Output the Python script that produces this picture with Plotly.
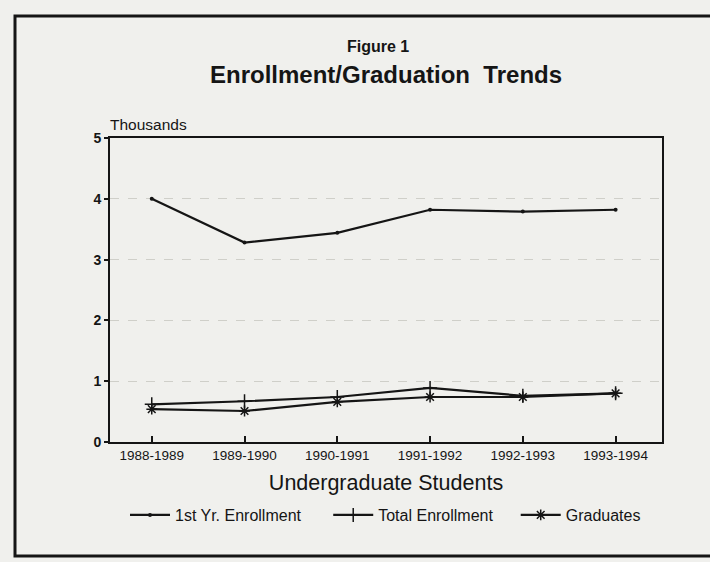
import plotly.graph_objects as go

categories = ["1988-1989", "1989-1990", "1990-1991", "1991-1992", "1992-1993", "1993-1994"]
first_year = [4.00, 3.28, 3.44, 3.82, 3.79, 3.82]
total_enrollment = [0.62, 0.67, 0.74, 0.89, 0.76, 0.80]
graduates = [0.54, 0.51, 0.66, 0.74, 0.74, 0.80]
y_ticks = [0, 1, 2, 3, 4, 5]
series_names = ["1st Yr. Enrollment", "Total Enrollment", "Graduates"]

FONT = "Liberation Sans, Arial, sans-serif"
INK = "#151515"
BG = "#f0f0ed"
PAD1 = "&nbsp;" * 5
PAD2 = "&nbsp;" * 4

x_idx = list(range(len(categories)))

fig = go.Figure()
fig.add_trace(go.Scatter(
    x=x_idx, y=first_year, name=series_names[0] + PAD1, mode="lines+markers",
    line=dict(color=INK, width=2.2), marker=dict(symbol="circle", size=4, color=INK)))
fig.add_trace(go.Scatter(
    x=x_idx, y=total_enrollment, name=series_names[1] + PAD2, mode="lines+markers",
    line=dict(color=INK, width=2.2),
    marker=dict(symbol="cross-thin-open", size=10, color=INK, line=dict(color=INK, width=1.5))))
fig.add_trace(go.Scatter(
    x=x_idx, y=graduates, name=series_names[2], mode="lines+markers",
    line=dict(color=INK, width=2.2),
    marker=dict(symbol="asterisk-open", size=9, color=INK, line=dict(color=INK, width=1.5))))

L, T, R, B = 110, 138, 48, 120
W, H = 710, 562
pw, ph = W - L - R, H - T - B

def px_x(p):
    return (p - L) / pw

def px_y(p):
    return (H - B - p) / ph

fig.update_layout(
    width=W, height=H,
    margin=dict(l=L, r=R, t=T, b=B),
    paper_bgcolor=BG, plot_bgcolor=BG,
    font=dict(family=FONT, color=INK, size=12),
    showlegend=True,
    legend=dict(orientation="h", x=px_x(125), xanchor="left", y=px_y(515), yanchor="middle",
                font=dict(family=FONT, size=16, color=INK), bgcolor="rgba(0,0,0,0)",
                itemwidth=40, tracegroupgap=0),
    xaxis=dict(
        tickmode="array", tickvals=x_idx, ticktext=categories,
        range=[-0.45, 5.5], showgrid=False, zeroline=False,
        showline=True, linecolor=INK, linewidth=2, mirror=True,
        ticks="inside", ticklen=6, tickwidth=1.5, tickcolor=INK,
        tickfont=dict(family=FONT, size=13.5, color=INK),
        title=dict(text="Undergraduate Students", font=dict(family=FONT, size=21.5, color=INK), standoff=13),
    ),
    yaxis=dict(
        tickmode="array", tickvals=y_ticks, ticktext=[str(v) for v in y_ticks],
        range=[0, 5], showgrid=True, gridcolor="#cfcfc9", griddash="dash", gridwidth=1,
        zeroline=False, showline=True, linecolor=INK, linewidth=2, mirror=True,
        ticks="outside", ticklen=4, tickwidth=1.5, tickcolor=INK,
        tickfont=dict(family=FONT, size=14, color=INK, weight="bold"),
    ),
    annotations=[
        dict(text="<b>Figure 1</b>", xref="paper", yref="paper", x=px_x(378), y=px_y(46),
             showarrow=False, font=dict(family=FONT, size=16, color=INK), xanchor="center", yanchor="middle"),
        dict(text="Enrollment/Graduation  Trends", xref="paper", yref="paper", x=px_x(386), y=px_y(74),
             showarrow=False, font=dict(family=FONT, size=24, color=INK, weight=600), xanchor="center", yanchor="middle"),
        dict(text="Thousands", xref="paper", yref="paper", x=px_x(108), y=px_y(124),
             showarrow=False, font=dict(family=FONT, size=15.5, color=INK), xanchor="left", yanchor="middle"),
    ],
    shapes=[
        dict(type="rect", xref="paper", yref="paper",
             x0=px_x(15), x1=px_x(720), y0=px_y(556), y1=px_y(16),
             line=dict(color=INK, width=3), fillcolor="rgba(0,0,0,0)", layer="below"),
    ],
)

fig.write_html(
    "out.html",
    config={"displayModeBar": False},
    post_script="document.body.style.margin='0';document.body.style.background='#f0f0ed';",
)
